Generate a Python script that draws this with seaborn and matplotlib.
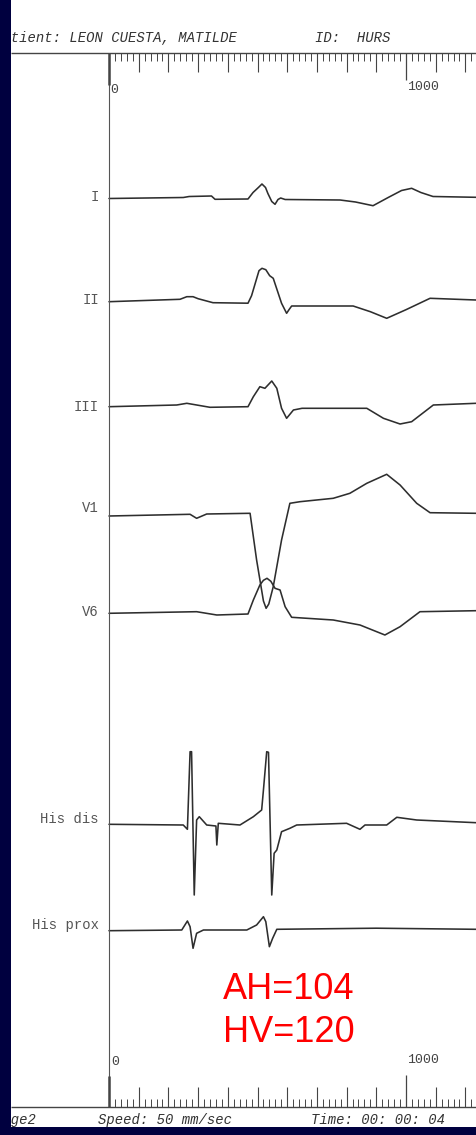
import numpy as np
import pandas as pd
import matplotlib
matplotlib.use("Agg")
import matplotlib.pyplot as plt
import seaborn as sns

# channel names and waveforms (time in ms, deflection in px, up = positive)
channels = ["I", "II", "III", "V1", "V6", "His dis", "His prox"]

lead_I_t = [0, 250, 270, 345, 357, 468, 485, 503, 515, 527, 535, 548, 559, 569, 578, 593, 778, 830, 889, 940, 985, 1019, 1050, 1091, 1236]
lead_I_v = [0, 1, 2, 2.5, -0.8, -0.5, 6, 11, 14.5, 11, 5, -3, -5.8, -1, 0.5, -1, -1.5, -3.5, -7.2, 1, 8, 10.2, 6, 2, 1.2]

lead_II_t = [0, 239, 262, 283, 300, 350, 468, 480, 492, 505, 515, 528, 541, 553, 581, 598, 606, 615, 822, 880, 935, 1000, 1081, 1236]
lead_II_v = [0, 2.4, 5, 5, 3, -1, -1.5, 6, 18, 31, 33.4, 32, 26, 23.4, -1.6, -11.6, -8, -4.3, -4.3, -10, -16.6, -8, 3.4, 1.7]

lead_III_t = [0, 228, 262, 340, 468, 486, 508, 525, 548, 565, 581, 598, 621, 650, 868, 924, 980, 1019, 1092, 1236]
lead_III_v = [0, 1.7, 3.4, -0.6, 0, 10, 20, 18.4, 25.7, 18.4, -1.6, -11.6, -3.3, -1.6, -1.6, -11.6, -17.3, -15, 1.7, 3.4]

v1_t = [0, 273, 295, 329, 475, 497, 520, 529, 538, 553, 581, 609, 643, 755, 811, 868, 935, 980, 1036, 1081, 1236]
v1_v = [0, 1.7, -2.3, 2, 2.7, -44, -85, -92.3, -88, -70.7, -24, 12.7, 14.3, 17.7, 22.7, 32.7, 41.7, 31, 12.7, 3.3, 2.7]

v6_t = [0, 295, 363, 468, 486, 508, 520, 532, 545, 559, 576, 593, 615, 755, 845, 929, 980, 1047, 1236]
v6_v = [0, 1.6, -1.7, -0.7, 13.3, 28.3, 33, 35, 32, 25, 23.3, 6.6, -4, -6.7, -11.7, -21.7, -13.4, 1.6, 2.6]

his_dis_t = [0, 250, 264, 273, 278, 287, 295, 304, 329, 360, 363, 368, 441, 486, 514, 520, 531, 537, 548, 556, 565, 581, 609, 632, 800, 845, 862, 935, 969, 1036, 1236]
his_dis_v = [0, -0.7, -5, 72.6, 72.6, -70.7, 4.3, 7.6, -0.7, -1.7, -20.7, 1, -0.7, 7.6, 14.3, 34.3, 72.6, 72, -70.7, -29, -25.7, -7.4, -4, -0.7, 1, -5, -0.7, -0.7, 7, 4.3, 1.6]

his_prox_t = [0, 245, 264, 273, 283, 295, 318, 464, 497, 520, 528, 540, 551, 565, 900, 1236]
his_prox_v = [0, 0.7, 9.7, 4, -17.6, -2.6, 0.7, 0.7, 5.7, 14, 9, -16, -7.6, 1.4, 2.5, 1.4]

intervals = ["AH=104", "HV=120"]

# layout (pixel rows on the page)
baselines = [198.5, 301.7, 406.7, 516, 613.3, 824.3, 930.7]
label_rows = [197, 300, 407, 508, 612, 819, 925]
PX_MS = 0.297          # 1000 ms = 297 px
X0 = 109               # pixel column of t = 0

waves = [(lead_I_t, lead_I_v), (lead_II_t, lead_II_v), (lead_III_t, lead_III_v),
         (v1_t, v1_v), (v6_t, v6_v), (his_dis_t, his_dis_v), (his_prox_t, his_prox_v)]

rows = []
for name, base, (t, v) in zip(channels, baselines, waves):
    for ti, vi in zip(t, v):
        rows.append({"channel": name, "t": ti, "y": base - vi})
df = pd.DataFrame(rows)

sns.set_style("white")
fig = plt.figure(figsize=(4.76, 11.35), dpi=100, facecolor="#00003f")
ax = fig.add_axes([11 / 476, 8 / 1135, 465 / 476, 1127 / 1135])
ax.set_facecolor("white")
tmin = (11 - X0) / PX_MS
tmax = (476 - X0) / PX_MS
ax.set_xlim(tmin, tmax)
ax.set_ylim(1127, 0)

sns.lineplot(data=df, x="t", y="y", units="channel", estimator=None, sort=False,
             color="#2e2e2e", lw=1.15, ax=ax)

ink = "#444444"
# rulers
top, bot = 52.7, 1106.7
ax.hlines([top, bot], tmin, tmax, color=ink, lw=1.0)
ax.vlines(0, top, bot, color="#555555", lw=0.8)
ax.vlines(0, top, 85, color=ink, lw=1.8)
ax.vlines(0, 1076, bot, color=ink, lw=1.8)
ticks = np.arange(20, tmax, 20)
minor = ticks[ticks % 100 != 0]
major = ticks[(ticks % 100 == 0) & (ticks != 1000)]
ax.vlines(minor, top, top + 8, color=ink, lw=0.7)
ax.vlines(major, top, top + 19, color=ink, lw=0.8)
ax.vlines(1000, top, top + 27, color=ink, lw=0.9)
ax.vlines(minor, bot - 8, bot, color=ink, lw=0.7)
ax.vlines(major, bot - 20, bot, color=ink, lw=0.8)
ax.vlines(1000, bot - 32, bot, color=ink, lw=0.9)

num_font = dict(family="Liberation Mono", fontsize=9.5, color=ink)
ax.text(5, 90, "0", ha="left", va="center", **num_font)
ax.text(1002, 87, "1000", ha="left", va="center", **num_font)
ax.text(8, 1062, "0", ha="left", va="center", **num_font)
ax.text(1005, 1060, "1000", ha="left", va="center", **num_font)

# header / footer (left ends run off the page, as on the scan)
hdr = dict(family="Liberation Mono", style="italic", fontsize=10, color="#333333", clip_on=True)
ax.text((-6 - X0) / PX_MS, 38.3, "Patient: LEON CUESTA, MATILDE", ha="left", va="center", **hdr)
ax.text((315 - X0) / PX_MS, 38.3, "ID:  HURS", ha="left", va="center", **hdr)
ax.text((-5 - X0) / PX_MS, 1120, "Page2", ha="left", va="center", **hdr)
ax.text((98 - X0) / PX_MS, 1120, "Speed: 50 mm/sec", ha="left", va="center", **hdr)
ax.text((311 - X0) / PX_MS, 1120, "Time: 00: 00: 04", ha="left", va="center", **hdr)

# channel labels
for name, yl in zip(channels, label_rows):
    ax.text((99 - X0) / PX_MS, yl, name, ha="right", va="center",
            family="Liberation Mono", fontsize=10, color="#555555")

# AH / HV intervals
for txt, yb in zip(intervals, [999.3, 1041.7]):
    ax.text(606, yb, txt, ha="center", va="baseline", family="Liberation Sans",
            fontsize=26, color="#ff0000")

ax.set_xticks([])
ax.set_yticks([])
ax.set_xlabel("")
ax.set_ylabel("")
for s in ax.spines.values():
    s.set_visible(False)
if ax.get_legend() is not None:
    ax.get_legend().remove()

fig.savefig("out.png", dpi=100, facecolor=fig.get_facecolor())
